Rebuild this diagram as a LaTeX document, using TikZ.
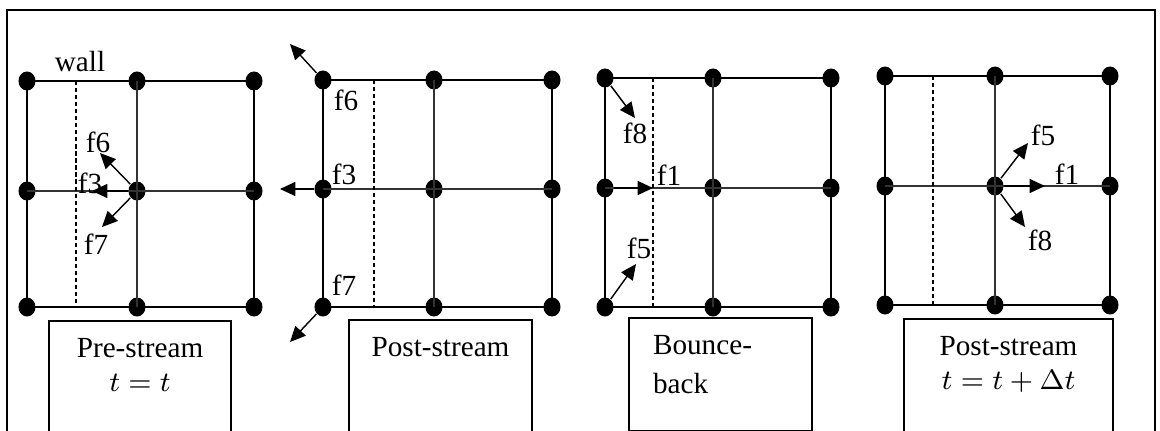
\documentclass[tikz,border=0pt]{standalone}
\usepackage{fontspec}
\setmainfont{Liberation Serif}
\usetikzlibrary{arrows.meta,shapes.geometric,positioning}
\tikzstyle{site}=[ellipse, fill=black, inner sep=0pt, minimum width=0.17cm, minimum height=0.19cm]
\tikzstyle{rim}=[line width=0.65pt]
\tikzstyle{mesh}=[line width=0.4pt, black!80]
\tikzstyle{gap}=[line width=0.3pt, dash pattern=on 1.2pt off 0.8pt]
\tikzstyle{pop}=[->, line width=0.4pt]
\tikzstyle{stage}=[draw, line width=0.55pt, inner sep=0pt, anchor=north west]
\tikzstyle{frame}=[line width=0.8pt]

% 3x3 lattice: prefix, x left/mid/right, y top/mid/bottom, x of the dashed wall line
\newcommand{\lattice}[8]{
  \node[site] (#1tl) at (#2,#5) {};
  \node[site] (#1tm) at (#3,#5) {};
  \node[site] (#1tr) at (#4,#5) {};
  \node[site] (#1ml) at (#2,#6) {};
  \node[site] (#1c)  at (#3,#6) {};
  \node[site] (#1mr) at (#4,#6) {};
  \node[site] (#1bl) at (#2,#7) {};
  \node[site] (#1bm) at (#3,#7) {};
  \node[site] (#1br) at (#4,#7) {};
  \draw[rim] (#1tl.center) -- (#1tm.center) -- (#1tr.center) -- (#1mr.center)
    -- (#1br.center) -- (#1bm.center) -- (#1bl.center) -- (#1ml.center) -- cycle;
  \draw[mesh] (#1tm.center) -- (#1c.center) -- (#1bm.center);
  \draw[mesh] (#1ml.center) -- (#1c.center) -- (#1mr.center);
  \coordinate (#1dt) at (#8,#5);
  \coordinate (#1db) at (#8,#7);
  \draw[gap] (#1dt) -- (#1db);
}

\begin{document}
\begin{tikzpicture}[x=0.01cm, y=-0.01cm, >={Triangle[length=4.4pt,width=4pt]},
  font=\fontsize{8.3}{9.6}\selectfont]
\useasboundingbox (0,0) rectangle (1160,430);
\draw[frame] (7,440) -- (7,10) -- (1155,10) -- (1155,440);

% pre-stream
\lattice{a}{27}{137}{254}{81}{191}{307}{76}
\node (wall) at (80,62) {wall};
\coordinate (a6) at (100,153);
\coordinate (a3) at (92,191);
\coordinate (a7) at (102,227);
\draw[pop] (ac) -- (a6);
\draw[pop] (ac) -- (a3);
\draw[pop] (ac) -- (a7);
\node (fa6) at (98,142) {f6};
\node (fa3) at (90,183) {f3};
\node (fa7) at (96,244) {f7};
\node[stage, minimum width=1.82cm, minimum height=1.12cm] (box1) at (48,320) {};
\node[below=1.8pt of box1.north, align=center] (txt1) {Pre-stream\\$t=t$};

% post-stream
\lattice{b}{323}{434}{552}{80}{189}{307}{374}
\coordinate (b6) at (290,44);
\coordinate (b3) at (280,189);
\coordinate (b7) at (290,342);
\draw[pop] (btl) -- (b6);
\draw[pop] (bml) -- (b3);
\draw[pop] (bbl) -- (b7);
\node (fb6) at (346,100) {f6};
\node (fb3) at (344,174) {f3};
\node (fb7) at (344,285) {f7};
\node[stage, minimum width=1.83cm, minimum height=1.12cm] (box2) at (348,319) {};
\node[below=1.8pt of box2.north] (txt2) {Post-stream};

% bounce-back
\lattice{c}{605}{713}{831}{78}{188}{307}{653}
\coordinate (c8) at (635,118);
\coordinate (c1) at (653,188);
\coordinate (c5) at (636,264);
\draw[pop] (ctl) -- (c8);
\draw[pop] (cml) -- (c1);
\draw[pop] (cbl) -- (c5);
\node (fc8) at (635,133) {f8};
\node (fc1) at (669,175) {f1};
\node (fc5) at (639,248) {f5};
\node[stage, minimum width=1.83cm, minimum height=1.13cm] (box3) at (628,317) {};
\node[below right=1.8pt and 3.6pt of box3.north west, align=left] (txt3)
  {Bounce-\\[1.5pt]back};

% post-stream, next step
\lattice{d}{885}{995}{1110}{76}{186}{305}{933}
\coordinate (d5) at (1028,143);
\coordinate (d1) at (1045,186);
\coordinate (d8) at (1025,227);
\draw[pop] (dc) -- (d5);
\draw[pop] (dc) -- (d1);
\draw[pop] (dc) -- (d8);
\node (fd5) at (1043,135) {f5};
\node (fd1) at (1067,174) {f1};
\node (fd8) at (1040,240) {f8};
\node[stage, minimum width=2.09cm, minimum height=1.13cm] (box4) at (903,318) {};
\node[below=1.8pt of box4.north, align=center] (txt4) {Post-stream\\$t=t+\Delta t$};
\end{tikzpicture}
\end{document}
